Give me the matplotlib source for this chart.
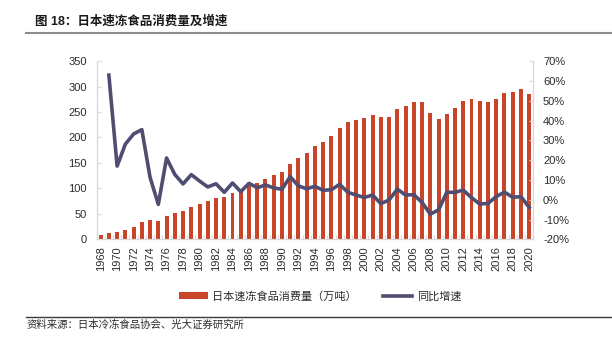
import matplotlib
matplotlib.use("Agg")
import matplotlib.pyplot as plt
from matplotlib.lines import Line2D
from matplotlib.patches import Patch
from matplotlib.ticker import FuncFormatter, MultipleLocator

plt.rcParams['font.family'] = ['Liberation Sans', 'Noto Sans CJK SC', 'DejaVu Sans']
plt.rcParams['axes.unicode_minus'] = False

# 日本速冻食品消费量（万吨）及同比增速（%）
years = list(range(1968, 2021))
consumption = [8.3, 12.8, 14.0, 18.7, 24.6, 33.8, 38.4, 36.4, 46.3, 52.2,
               56.7, 64.6, 69.9, 75.2, 81.0, 84.3, 92.0, 94.0, 104.0, 110.0,
               119.0, 126.0, 132.0, 149.0, 160.0, 169.0, 183.0, 192.0, 203.0, 219.5,
               230.6, 234.6, 237.9, 245.0, 240.5, 240.5, 256.0, 262.0, 270.0, 268.7,
               249.0, 236.6, 247.0, 257.5, 271.0, 276.0, 271.0, 270.0, 274.6, 287.0,
               289.8, 295.7, 285.8]
growth_years = list(range(1969, 2021))
growth = [62.9, 17.0, 28.1, 33.2, 35.4, 11.3, -2.3, 21.1, 12.8, 8.0,
          12.7, 9.5, 6.5, 8.1, 3.8, 8.5, 4.1, 8.3, 6.1, 7.5,
          6.0, 5.3, 11.7, 7.0, 5.6, 6.8, 4.8, 5.1, 7.8, 3.8,
          2.4, 1.2, 2.4, -1.9, -0.1, 5.4, 2.4, 2.6, -1.3, -7.2,
          -5.1, 3.8, 3.8, 4.9, 1.1, -2.1, -1.8, 1.6, 3.9, 1.3,
          1.6, -3.8]

bar_label = '日本速冻食品消费量（万吨）'
line_label = '同比增速'
title = '图 18：日本速冻食品消费量及增速'
source = '资料来源：日本冷冻食品协会、光大证券研究所'

bar_color = '#C9452A'
line_color = '#4F4D72'
axis_gray = '#D9D9D9'
text_color = '#2b2b2b'

fig = plt.figure(figsize=(6.12, 3.48), dpi=100)
ax = fig.add_axes([0.1577, 0.3118, 0.7137, 0.5129])
ax2 = ax.twinx()

ax.bar(years, consumption, width=0.48, color=bar_color, zorder=2)
ax2.plot(growth_years, growth, color=line_color, linewidth=2.6,
         solid_joinstyle='round', zorder=3)

ax.set_xlim(1967.5, 2020.5)
ax.set_ylim(0, 350)
ax.yaxis.set_major_locator(MultipleLocator(50))
ax2.set_ylim(-20, 70)
ax2.yaxis.set_major_locator(MultipleLocator(10))
ax2.yaxis.set_major_formatter(FuncFormatter(lambda v, p: f'{v:.0f}%'))

ax.set_xticks(years[::2])
ax.set_xticklabels([str(y) for y in years[::2]], rotation=90)
ax.set_xticks([y + 0.5 for y in years[:-1]], minor=True)

for a in (ax, ax2):
    a.spines['top'].set_visible(False)
    for side in ('left', 'right', 'bottom'):
        a.spines[side].set_color(axis_gray)
        a.spines[side].set_linewidth(0.8)
    a.tick_params(axis='y', direction='in', length=3, width=0.8,
                  color=axis_gray, labelsize=8, labelcolor=text_color, pad=7)
ax.tick_params(axis='x', which='major', length=0, labelsize=8,
               labelcolor=text_color, pad=5)
ax.tick_params(axis='x', which='minor', direction='in', length=3,
               width=0.8, color=axis_gray)

ax.set_zorder(ax2.get_zorder() - 1)
ax.patch.set_visible(False)

handles = [Patch(facecolor=bar_color, edgecolor='none'),
           Line2D([0], [0], color=line_color, linewidth=2.6)]
fig.legend(handles, [bar_label, line_label], loc='center',
           bbox_to_anchor=(0.523, 1 - 296.5 / 348), ncol=2, frameon=False,
           fontsize=8, handlelength=2.6, handleheight=0.6,
           columnspacing=2.4, handletextpad=0.4, labelcolor=text_color)

# 标题、分隔线与资料来源
fig.text(35 / 612, 1 - 21.5 / 348, title, fontsize=9, fontweight='bold',
         va='center', ha='left', color='#1a1a1a')
fig.add_artist(Line2D([26 / 612, 1.0], [1 - 33.3 / 348] * 2,
                      color='#8C8C8C', linewidth=1.5))
fig.add_artist(Line2D([26 / 612, 1.0], [1 - 316.7 / 348] * 2,
                      color='#3a3a3a', linewidth=1.0))
fig.text(26.5 / 612, 1 - 324.5 / 348, source, fontsize=7.5,
         va='center', ha='left', color=text_color)

fig.savefig('out.png', dpi=100)
